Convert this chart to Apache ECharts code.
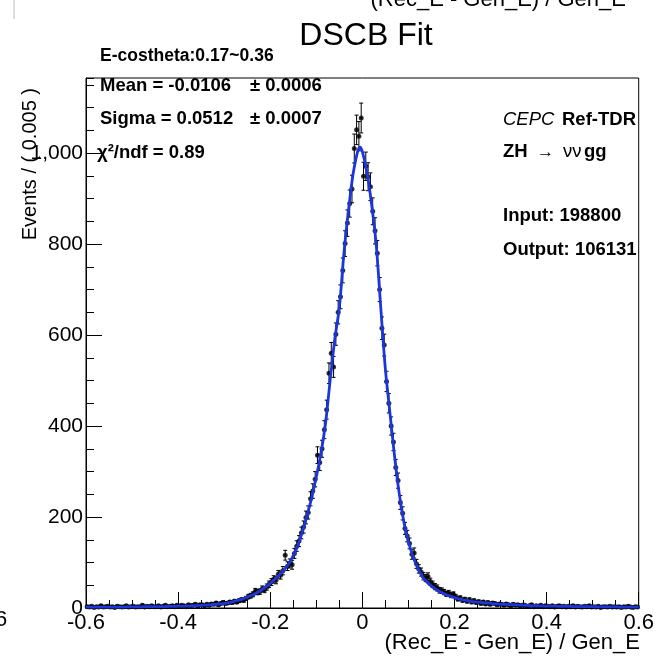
<!DOCTYPE html>
<html>
<head>
<meta charset="utf-8">
<script src="https://cdn.jsdelivr.net/npm/echarts@6/dist/echarts.min.js"></script>
<style>
  html, body { margin: 0; padding: 0; background: #fff; }
  #chart { width: 657px; height: 656px; }
</style>
</head>
<body>
<div id="chart"></div>
<script>
// histogram: 240 bins of 0.005 between -0.6 and 0.6
var binLow = -0.6;
var binWidth = 0.005;
var counts = [
  3, 2, 4, 1, 3, 2, 5, 2, 3, 4,
  2, 3, 1, 4, 3, 2, 3, 5, 2, 3,
  4, 2, 3, 3, 6, 2, 4, 3, 5, 3,
  3, 5, 2, 4, 6, 3, 4, 5, 3, 6,
  4, 6, 5, 3, 7, 5, 6, 8, 4, 7,
  7, 5, 8, 6, 9, 8, 11, 7, 10, 12,
  10, 11, 13, 12, 15, 13, 16, 18, 17, 21,
  25, 27, 30, 37, 35, 36, 42, 40, 46, 52,
  57, 63, 61, 74, 72, 82, 116, 92, 98, 95,
  120, 136, 147, 165, 178, 199, 210, 240, 257, 283,
  336, 320, 350, 392, 436, 516, 560, 530, 602, 650,
  684, 742, 801, 846, 889, 921, 1010, 1051, 1037, 1077,
  949, 971, 948, 926, 872, 829, 780, 700, 615, 578,
  498, 450, 400, 365, 309, 280, 232, 208, 175, 158,
  142, 118, 121, 97, 86, 79, 70, 66, 69, 58,
  52, 47, 44, 39, 38, 35, 31, 33, 28, 30,
  25, 20, 22, 17, 19, 15, 18, 13, 16, 12,
  14, 10, 13, 9, 12, 8, 11, 10, 7, 9,
  8, 6, 9, 7, 5, 8, 6, 7, 5, 6,
  6, 4, 5, 7, 3, 5, 4, 6, 3, 5,
  4, 3, 5, 2, 4, 5, 3, 4, 2, 4,
  3, 5, 2, 4, 3, 2, 4, 3, 5, 2,
  3, 2, 4, 1, 3, 3, 2, 4, 2, 3,
  2, 3, 1, 3, 2, 4, 2, 1, 3, 2
];

// DSCB fit curve
var fitCurve = [
  [-0.60, 2], [-0.59, 2], [-0.58, 2], [-0.57, 2], [-0.56, 2], [-0.55, 2], [-0.54, 2], [-0.53, 2],
  [-0.52, 2], [-0.51, 2.5], [-0.50, 2.5], [-0.49, 2.5], [-0.48, 2.5], [-0.47, 3], [-0.46, 3],
  [-0.45, 3], [-0.44, 3], [-0.43, 3], [-0.42, 3.5], [-0.41, 3.5], [-0.40, 4], [-0.39, 4],
  [-0.38, 4.5], [-0.37, 5], [-0.36, 5], [-0.35, 6], [-0.34, 6.5], [-0.33, 7], [-0.32, 8],
  [-0.31, 9], [-0.30, 10], [-0.29, 12], [-0.28, 14], [-0.27, 17], [-0.26, 20], [-0.25, 24],
  [-0.24, 28], [-0.23, 33], [-0.22, 39], [-0.21, 46], [-0.20, 54], [-0.19, 63], [-0.18, 73],
  [-0.17, 84], [-0.16, 97], [-0.15, 115], [-0.14, 138], [-0.13, 168], [-0.12, 203], [-0.11, 243],
  [-0.10, 288], [-0.09, 340], [-0.08, 405], [-0.07, 500], [-0.06, 590], [-0.05, 660], [-0.04, 780],
  [-0.03, 875], [-0.02, 955], [-0.01, 1005], [-0.005, 1013], [0.00, 1003], [0.01, 958], [0.02, 888],
  [0.03, 800], [0.04, 660], [0.05, 525], [0.06, 428], [0.07, 333], [0.08, 252], [0.09, 190],
  [0.10, 146], [0.11, 113], [0.12, 88], [0.13, 70], [0.14, 57], [0.15, 48], [0.16, 41], [0.17, 35],
  [0.18, 30], [0.19, 26], [0.20, 23], [0.21, 20], [0.22, 18], [0.23, 16], [0.24, 14], [0.25, 13],
  [0.26, 12], [0.27, 11], [0.28, 10], [0.29, 9], [0.30, 8.5], [0.31, 8], [0.32, 7.5], [0.33, 7],
  [0.34, 6.5], [0.35, 6], [0.36, 5.5], [0.37, 5], [0.38, 5], [0.39, 4.5], [0.40, 4], [0.41, 4],
  [0.42, 4], [0.43, 3.5], [0.44, 3.5], [0.45, 3.5], [0.46, 3], [0.47, 3], [0.48, 3], [0.49, 3],
  [0.50, 3], [0.51, 2.5], [0.52, 2.5], [0.53, 2.5], [0.54, 2.5], [0.55, 2.5], [0.56, 2], [0.57, 2],
  [0.58, 2], [0.59, 2], [0.60, 2]
];

var fitLines = ['Mean = -0.0106', 'Sigma = 0.0512', '\u03c7\u00b2/ndf = 0.89'];
var fitErrors = ['\u00b1 0.0006', '\u00b1 0.0007'];
var infoLines = ['Input: 198800', 'Output: 106131'];

var FONT = '"Liberation Sans", Arial, Helvetica, sans-serif';
var points = counts.map(function (c, i) {
  return [binLow + binWidth * (i + 0.5), c, Math.sqrt(c)];
});

function txt(text, x, y, font, align, extra) {
  var el = {
    type: 'text', x: x, y: y, z: 100,
    style: { text: text, font: font + ' ' + FONT, fill: '#000', textAlign: align || 'left', textVerticalAlign: 'middle' }
  };
  if (extra) for (var k in extra) el[k] = extra[k];
  return el;
}

var chart = echarts.init(document.getElementById('chart'));
chart.setOption({
  animation: false,
  backgroundColor: '#fff',
  grid: { left: 86, right: 15, top: 78, bottom: 48, show: true, borderColor: '#000', borderWidth: 1 },
  xAxis: {
    type: 'value', min: -0.6, max: 0.6, interval: 0.2,
    axisLine: { onZero: false, lineStyle: { color: '#000', width: 1 } },
    axisTick: { inside: true, length: 16, lineStyle: { color: '#000' } },
    minorTick: { show: true, splitNumber: 4, length: 8, lineStyle: { color: '#000' } },
    splitLine: { show: false },
    axisLabel: {
      color: '#000', fontSize: 22, fontFamily: FONT, margin: 4,
      formatter: function (v) { var r = Math.round(v * 10) / 10; return r === 0 ? '0' : String(r); }
    }
  },
  yAxis: [{
    type: 'value', min: 0, max: 1165, interval: 200, position: 'left',
    axisLine: { onZero: false, lineStyle: { color: '#000', width: 1 } },
    axisTick: { inside: true, length: 16, lineStyle: { color: '#000' } },
    splitLine: { show: false },
    axisLabel: { color: '#000', fontSize: 21, fontFamily: FONT, margin: 3, showMaxLabel: false }
  }, {
    type: 'value', min: 0, max: 1165, interval: 50, position: 'left',
    axisLine: { show: false, onZero: false },
    axisTick: { inside: true, length: 8, lineStyle: { color: '#000' } },
    splitLine: { show: false },
    axisLabel: { show: false }
  }],
  series: [{
    type: 'custom',
    clip: true,
    encode: { x: 0, y: 1 },
    data: points,
    renderItem: function (params, api) {
      var x = api.value(0), y = api.value(1), e = api.value(2);
      var top = api.coord([x, y + e]);
      var bot = api.coord([x, Math.max(y - e, 0)]);
      var l = api.coord([x - binWidth / 2, y]);
      var r = api.coord([x + binWidth / 2, y]);
      var st = { stroke: '#000', lineWidth: 1 };
      return {
        type: 'group',
        children: [
          { type: 'line', shape: { x1: top[0], y1: top[1], x2: bot[0], y2: bot[1] }, style: st },
          { type: 'line', shape: { x1: top[0] - 2, y1: top[1], x2: top[0] + 2, y2: top[1] }, style: st },
          { type: 'line', shape: { x1: bot[0] - 2, y1: bot[1], x2: bot[0] + 2, y2: bot[1] }, style: st },
          { type: 'line', shape: { x1: l[0], y1: l[1], x2: r[0], y2: r[1] }, style: st }
        ]
      };
    },
    z: 2
  }, {
    type: 'scatter',
    data: points.map(function (p) { return [p[0], p[1]]; }),
    symbol: 'circle',
    symbolSize: 5,
    itemStyle: { color: '#000' },
    z: 3
  }, {
    type: 'line',
    data: fitCurve,
    showSymbol: false,
    smooth: 0.3,
    lineStyle: { color: '#1c36dc', width: 2.8 },
    z: 4
  }],
  graphic: [
    // bits of the neighbouring pad, cut off by the crop
    txt('(Rec_E - Gen_E) / Gen_E', 626, 0, '22px', 'right'),
    txt('6', -5, 620, '22px', 'left'),
    { type: 'line', shape: { x1: 14, y1: 0, x2: 14, y2: 19 }, style: { stroke: '#bbb', lineWidth: 1 } },

    txt('DSCB Fit', 366, 36, '32px', 'center'),
    txt('E-costheta:0.17~0.36', 100, 56, 'bold 17.5px', 'left'),
    txt(fitLines[0], 100, 86, 'bold 18.5px', 'left'),
    txt(fitErrors[0], 250, 86, 'bold 18.5px', 'left'),
    txt(fitLines[1], 100, 119, 'bold 18.5px', 'left'),
    txt(fitErrors[1], 250, 119, 'bold 18.5px', 'left'),
    txt(fitLines[2], 97, 153, 'bold 18.5px', 'left'),

    txt('CEPC', 503, 120, 'italic 18.5px', 'left'),
    txt('Ref-TDR', 636, 120, 'bold 18.5px', 'right'),
    txt('ZH', 503, 152, 'bold 18.5px', 'left'),
    txt('\u2192', 537, 152, '17px', 'left'),
    txt('\u03bd\u03bd', 563, 152, '18.5px', 'left'),
    txt('gg', 584, 152, 'bold 18.5px', 'left'),
    txt(infoLines[0], 503, 216, 'bold 18.5px', 'left'),
    txt(infoLines[1], 503, 250, 'bold 18.5px', 'left'),

    txt('Events / ( 0.005 )', 30, 88, '20px', 'right', { rotation: Math.PI / 2 }),
    txt('(Rec_E - Gen_E) / Gen_E', 640, 643, '22px', 'right')
  ]
});
</script>
</body>
</html>
